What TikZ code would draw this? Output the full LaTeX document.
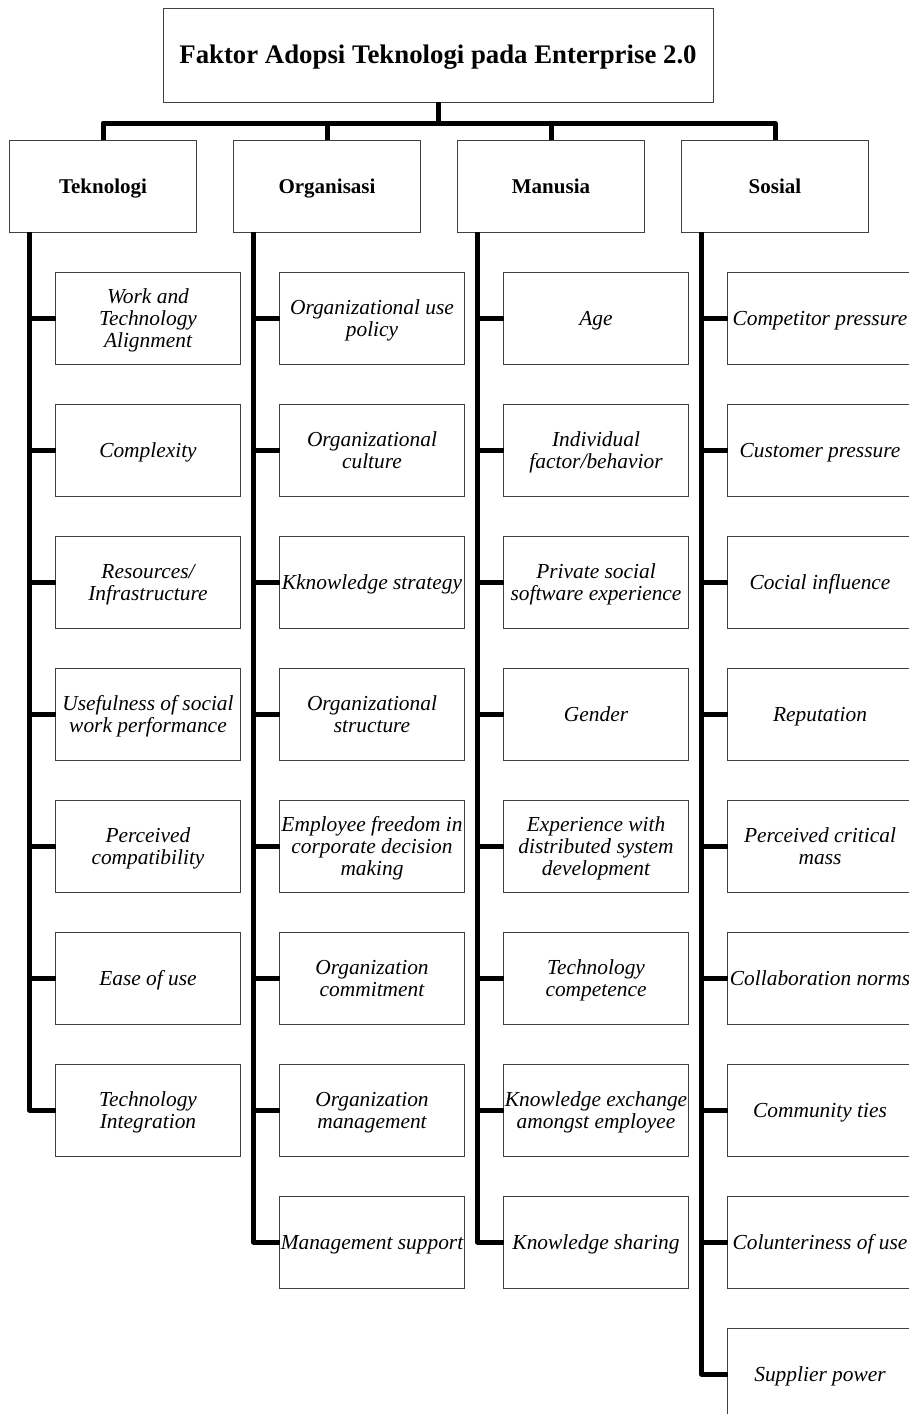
\documentclass[tikz,border=0pt]{standalone}
\usepackage{fontspec}
\setmainfont{Liberation Serif}
\usepackage{tikz}
\usetikzlibrary{positioning,calc}

\begin{document}
\begin{tikzpicture}[
            x=0.5pt, y=0.5pt,
            node distance=20pt,
            outer sep=0pt,
            % Style untuk kotak judul
            judul/.style={
                draw=black!75,
                line width=0.5pt,
                minimum width=275pt,
                minimum height=47pt,
                text height=9.2pt,
                text depth=0.4pt,
                font=\fontsize{13.4}{15}\selectfont\bfseries
            },
            % Style untuk kotak kategori
            kategori/.style={
                draw=black!75,
                line width=0.5pt,
                minimum width=93.5pt,
                minimum height=46pt,
                text height=7.5pt,
                text depth=0.5pt,
                font=\fontsize{10.5}{12}\selectfont\bfseries
            },
            % Style untuk kotak faktor
            faktor/.style={
                draw=black!75,
                line width=0.5pt,
                minimum width=92.5pt,
                minimum height=46pt,
                inner xsep=0pt,
                inner ysep=1pt,
                align=center,
                text depth=0pt,
                font=\fontsize{10.7}{11}\selectfont\itshape
            },
            % Style untuk garis penghubung
            garis/.style={
                line width=2.5pt,
                line join=round
            }
        ]
            % BATAS GAMBAR
            \useasboundingbox (0,0) rectangle (909,-1414);
            \clip (0,0) rectangle (909,-1414);

            % JUDUL
            \node[judul] (judul) at (438,-55) {Faktor Adopsi Teknologi pada Enterprise 2.0};

            % BARIS KATEGORI
            \node[kategori] (tek) at (103,-186) {Teknologi};
            \node[kategori, right=18.5pt of tek] (org) {Organisasi};
            \node[kategori, right=18.5pt of org] (man) {Manusia};
            \node[kategori, right=18.5pt of man] (sos) {Sosial};

            % KOLOM TEKNOLOGI
            \node[faktor, below=20pt of tek, xshift=22.5pt] (t1) {Work and\\Technology\\Alignment};
            \node[faktor, below=of t1] (t2) {Complexity};
            \node[faktor, below=of t2] (t3) {Resources/\\Infrastructure};
            \node[faktor, below=of t3] (t4) {Usefulness of social\\work performance};
            \node[faktor, below=of t4] (t5) {Perceived\\compatibility};
            \node[faktor, below=of t5] (t6) {Ease of use};
            \node[faktor, below=of t6] (t7) {Technology\\Integration};

            % KOLOM ORGANISASI
            \node[faktor, below=20pt of org, xshift=22.5pt] (o1) {Organizational use\\policy};
            \node[faktor, below=of o1] (o2) {Organizational\\culture};
            \node[faktor, below=of o2] (o3) {Kknowledge strategy};
            \node[faktor, below=of o3] (o4) {Organizational\\structure};
            \node[faktor, below=of o4] (o5) {Employee freedom in\\corporate decision\\making};
            \node[faktor, below=of o5] (o6) {Organization\\commitment};
            \node[faktor, below=of o6] (o7) {Organization\\management};
            \node[faktor, below=of o7] (o8) {Management support};

            % KOLOM MANUSIA
            \node[faktor, below=20pt of man, xshift=22.5pt] (m1) {Age};
            \node[faktor, below=of m1] (m2) {Individual\\factor/behavior};
            \node[faktor, below=of m2] (m3) {Private social\\software experience};
            \node[faktor, below=of m3] (m4) {Gender};
            \node[faktor, below=of m4] (m5) {Experience with\\distributed system\\development};
            \node[faktor, below=of m5] (m6) {Technology\\competence};
            \node[faktor, below=of m6] (m7) {Knowledge exchange\\amongst employee};
            \node[faktor, below=of m7] (m8) {Knowledge sharing};

            % KOLOM SOSIAL
            \node[faktor, below=20pt of sos, xshift=22.5pt] (s1) {Competitor pressure};
            \node[faktor, below=of s1] (s2) {Customer pressure};
            \node[faktor, below=of s2] (s3) {Cocial influence};
            \node[faktor, below=of s3] (s4) {Reputation};
            \node[faktor, below=of s4] (s5) {Perceived critical\\mass};
            \node[faktor, below=of s5] (s6) {Collaboration norms};
            \node[faktor, below=of s6] (s7) {Community ties};
            \node[faktor, below=of s7] (s8) {Colunteriness of use};
            \node[faktor, below=of s8] (s9) {Supplier power};

            % GARIS DARI JUDUL KE KATEGORI
            \coordinate (cabang) at ($(judul.south)+(0,-10.5pt)$);
            \draw[garis] (judul.south) -- (cabang);
            \draw[garis] (cabang) -| (tek.north);
            \draw[garis] (cabang) -| (org.north);
            \draw[garis] (cabang) -| (man.north);
            \draw[garis] (cabang) -| (sos.north);

            % TULANG PUNGGUNG TIAP KOLOM
            \coordinate (tekx) at ($(tek.south west)+(10pt,0)$);
            \coordinate (orgx) at ($(org.south west)+(10pt,0)$);
            \coordinate (manx) at ($(man.south west)+(10pt,0)$);
            \coordinate (sosx) at ($(sos.south west)+(10pt,0)$);
            \draw[garis] (tekx) |- (t7.west);
            \draw[garis] (orgx) |- (o8.west);
            \draw[garis] (manx) |- (m8.west);
            \draw[garis] (sosx) |- (s9.west);

            % CABANG KE TIAP FAKTOR
            \foreach \i in {1,...,6} \draw[garis] (t\i.west) -- (tekx |- t\i.west);
            \foreach \i in {1,...,7} \draw[garis] (o\i.west) -- (orgx |- o\i.west);
            \foreach \i in {1,...,7} \draw[garis] (m\i.west) -- (manx |- m\i.west);
            \foreach \i in {1,...,8} \draw[garis] (s\i.west) -- (sosx |- s\i.west);

        \end{tikzpicture}
\end{document}
